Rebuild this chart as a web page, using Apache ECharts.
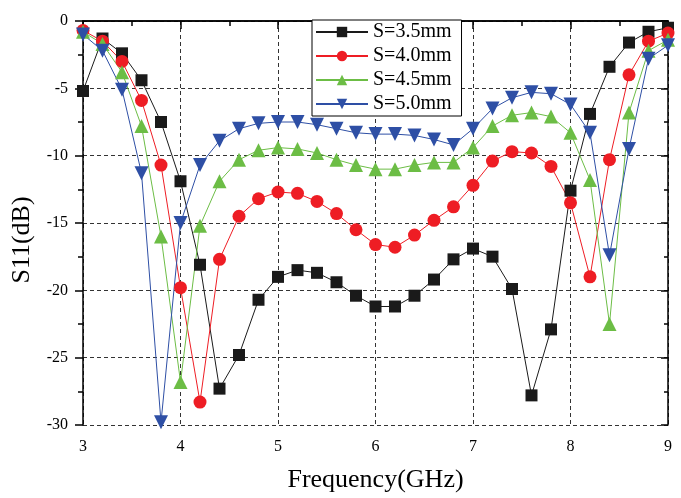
<!DOCTYPE html>
<html>
<head>
    <meta charset="utf-8">
    <title>S11</title>
    <script src="https://cdn.jsdelivr.net/npm/echarts@6/dist/echarts.min.js"></script>
</head>
<body style="margin:0">
<div id="container" style="width:681px;height:498px"></div>
<script type="text/javascript">
// frequency points, 3 to 9 GHz step 0.2
var freq = [3.0,3.2,3.4,3.6,3.8,4.0,4.2,4.4,4.6,4.8,5.0,5.2,5.4,5.6,5.8,6.0,6.2,6.4,6.6,6.8,7.0,7.2,7.4,7.6,7.8,8.0,8.2,8.4,8.6,8.8,9.0];
var names = ['S=3.5mm', 'S=4.0mm', 'S=4.5mm', 'S=5.0mm'];
var s35 = [-5.2,-1.3,-2.4,-4.4,-7.5,-11.9,-18.1,-27.3,-24.8,-20.7,-19.0,-18.5,-18.7,-19.4,-20.4,-21.2,-21.2,-20.4,-19.2,-17.7,-16.9,-17.5,-19.9,-27.8,-22.9,-12.6,-6.9,-3.4,-1.6,-0.8,-0.5];
var s40 = [-0.7,-1.5,-3.0,-5.9,-10.7,-19.8,-28.3,-17.7,-14.5,-13.2,-12.7,-12.8,-13.4,-14.3,-15.5,-16.6,-16.8,-15.9,-14.8,-13.8,-12.2,-10.4,-9.7,-9.8,-10.8,-13.5,-19.0,-10.3,-4.0,-1.5,-0.9];
var s45 = [-0.8,-1.7,-3.8,-7.8,-16.0,-26.8,-15.2,-11.9,-10.3,-9.6,-9.4,-9.5,-9.8,-10.3,-10.7,-11.0,-11.0,-10.7,-10.5,-10.5,-9.4,-7.8,-7.0,-6.8,-7.1,-8.3,-11.8,-22.5,-6.8,-2.2,-1.4];
var s50 = [-1.0,-2.2,-5.1,-11.3,-29.8,-15.0,-10.7,-8.9,-8.0,-7.6,-7.5,-7.5,-7.7,-8.0,-8.3,-8.4,-8.4,-8.5,-8.8,-9.2,-8.0,-6.5,-5.7,-5.3,-5.4,-6.2,-8.3,-17.4,-9.5,-2.8,-1.8];

var colors = ['#1a1a1a', '#ee1d24', '#6cbd45', '#2e4fa5'];
var symbols = ['rect', 'circle', 'triangle', 'triangle'];
var rotates = [0, 0, 0, 180];
var sizes = [12, 13, 14, 14];
var values = [s35, s40, s45, s50];

var font = 'Liberation Serif, Times New Roman, serif';

function pairs(ys) {
    return freq.map(function (f, i) { return [f, ys[i]]; });
}

var series = names.map(function (n, k) {
    return {
        name: n,
        type: 'line',
        data: pairs(values[k]),
        symbol: symbols[k],
        symbolSize: sizes[k],
        symbolRotate: rotates[k],
        lineStyle: { color: colors[k], width: 1 },
        itemStyle: { color: colors[k] }
    };
});

// bottom/left ticks point out, top/right ticks point in
var tickOut = { show: true, inside: false, length: 8, lineStyle: { color: '#000', width: 1.5 } };
var minorOut = { show: true, splitNumber: 2, length: 5, lineStyle: { color: '#000', width: 1.5 } };
var tickIn = { show: true, inside: true, length: 7, lineStyle: { color: '#000', width: 1.5 } };
var gridLine = { show: true, lineStyle: { color: '#333', type: [4, 3], width: 1 } };

var myChart = echarts.init(document.getElementById('container'));
var option = {
    animation: false,
    color: colors,
    grid: { left: 83, right: 13, top: 21, bottom: 73 },
    legend: {
        orient: 'vertical',
        left: 312,
        top: 20,
        padding: [2, 10, 2, 3],
        itemGap: 4,
        itemWidth: 52,
        itemHeight: 13,
        borderColor: '#000',
        borderWidth: 1,
        borderRadius: 0,
        backgroundColor: '#fff',
        textStyle: { fontFamily: font, fontSize: 20, color: '#000' },
        data: names
    },
    graphic: [{
        type: 'text',
        x: 22,
        y: 240,
        rotation: Math.PI / 2,
        style: {
            text: 'S11(dB)',
            font: '26px ' + font,
            fill: '#000',
            align: 'center',
            verticalAlign: 'middle'
        }
    }],
    xAxis: [{
        type: 'value',
        min: 3, max: 9, interval: 1,
        name: 'Frequency(GHz)',
        nameLocation: 'middle',
        nameGap: 42,
        nameTextStyle: { fontFamily: font, fontSize: 26, color: '#000' },
        axisLine: { lineStyle: { color: '#000', width: 1.5 } },
        axisTick: tickOut,
        minorTick: minorOut,
        axisLabel: { fontFamily: font, fontSize: 16, color: '#000', margin: 14 },
        splitLine: gridLine
    }, {
        type: 'value',
        position: 'top',
        min: 3, max: 9, interval: 1,
        axisLine: { lineStyle: { color: '#000', width: 1.5 } },
        axisTick: tickIn,
        minorTick: { show: true, splitNumber: 2, length: 4, lineStyle: { color: '#000', width: 1.5 } },
        axisLabel: { show: false },
        splitLine: { show: false }
    }],
    yAxis: [{
        type: 'value',
        min: -30, max: 0, interval: 5,
        axisLine: { show: true, lineStyle: { color: '#000', width: 1.5 } },
        axisTick: tickOut,
        minorTick: minorOut,
        axisLabel: { fontFamily: font, fontSize: 16, color: '#000', margin: 15 },
        splitLine: gridLine
    }, {
        type: 'value',
        position: 'right',
        min: -30, max: 0, interval: 5,
        axisLine: { show: true, lineStyle: { color: '#000', width: 1.5 } },
        axisTick: tickIn,
        minorTick: { show: true, splitNumber: 2, length: 4, lineStyle: { color: '#000', width: 1.5 } },
        axisLabel: { show: false },
        splitLine: { show: false }
    }],
    series: series
};
myChart.setOption(option);
</script>
</body>
</html>
